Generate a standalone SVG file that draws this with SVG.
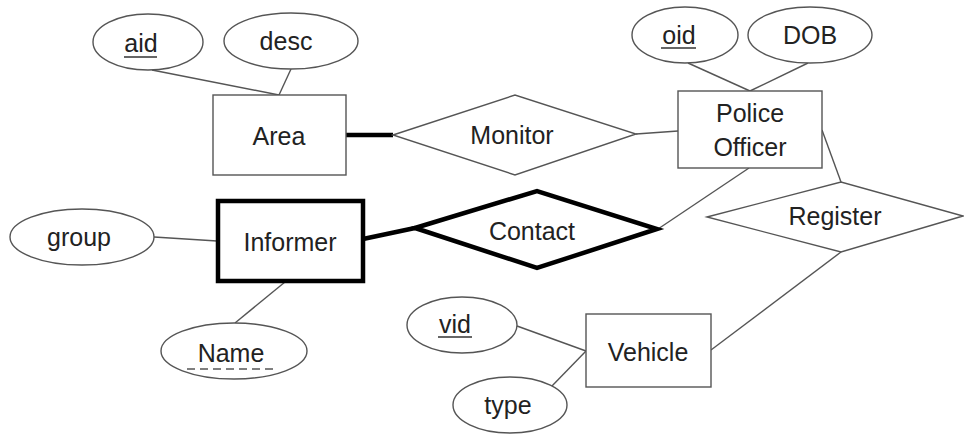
<svg xmlns="http://www.w3.org/2000/svg" width="964" height="434" viewBox="0 0 964 434">
  <style>
    .ent { fill: #ffffff; stroke: #555555; stroke-width: 1.4; }
    .weak { fill: #ffffff; stroke: #000000; stroke-width: 4.5; stroke-linejoin: miter; }
    .rel { fill: #ffffff; stroke: #555555; stroke-width: 1.4; }
    .attr { fill: #ffffff; stroke: #555555; stroke-width: 1.4; }
    .lbl { font-family: "Liberation Sans", Arial, sans-serif; font-size: 25px; fill: #222222; text-anchor: middle; }
    .key { fill: none; stroke: #333333; stroke-width: 1.6; }
    .partial { fill: none; stroke: #555555; stroke-width: 1.4; stroke-dasharray: 8 5; }
    .thin { fill: none; stroke: #555555; stroke-width: 1.4; }
    .thick { fill: none; stroke: #000000; stroke-width: 4.5; }
  </style>

  <!-- connectors -->
  <g id="connectors">
    <line class="thin" x1="152" y1="70" x2="279" y2="95"/>
    <line class="thin" x1="291" y1="69" x2="279" y2="95"/>
    <line class="thick" x1="346" y1="135" x2="393" y2="135"/>
    <line class="thin" x1="636" y1="134" x2="678" y2="131"/>
    <line class="thin" x1="688" y1="63" x2="750" y2="91"/>
    <line class="thin" x1="808" y1="63" x2="750" y2="91"/>
    <line class="thin" x1="822" y1="130" x2="841" y2="182"/>
    <line class="thin" x1="749" y1="168" x2="658" y2="229"/>
    <line class="thick" x1="363" y1="239" x2="415" y2="228"/>
    <line class="thin" x1="154" y1="237" x2="217" y2="241"/>
    <line class="thin" x1="285" y1="282" x2="235" y2="323"/>
    <line class="thin" x1="517" y1="326" x2="586" y2="351"/>
    <line class="thin" x1="551" y1="387" x2="586" y2="351"/>
    <line class="thin" x1="711" y1="350" x2="841" y2="252"/>
  </g>

  <!-- Area entity and its attributes -->
  <g id="attr-aid">
    <ellipse class="attr" cx="148" cy="42" rx="55" ry="28"/>
    <text class="lbl" x="141" y="52">aid</text>
    <line class="key" x1="124" y1="57" x2="157" y2="57"/>
  </g>
  <g id="attr-desc">
    <ellipse class="attr" cx="291" cy="41" rx="67" ry="28"/>
    <text class="lbl" x="286" y="50">desc</text>
  </g>
  <g id="entity-area">
    <rect class="ent" x="213" y="95" width="133" height="80"/>
    <text class="lbl" x="279" y="145">Area</text>
  </g>

  <!-- Monitor relationship -->
  <g id="rel-monitor">
    <polygon class="rel" points="393,135 515,95 636,134 515,175"/>
    <text class="lbl" x="512" y="144">Monitor</text>
  </g>

  <!-- Police Officer entity and its attributes -->
  <g id="attr-oid">
    <ellipse class="attr" cx="685" cy="35" rx="53" ry="28"/>
    <text class="lbl" x="679" y="44">oid</text>
    <line class="key" x1="661" y1="48" x2="696" y2="48"/>
  </g>
  <g id="attr-dob">
    <ellipse class="attr" cx="810" cy="35" rx="62" ry="28"/>
    <text class="lbl" x="810" y="44">DOB</text>
  </g>
  <g id="entity-police-officer">
    <rect class="ent" x="678" y="91" width="144" height="77"/>
    <text class="lbl" x="750" y="122">Police</text>
    <text class="lbl" x="750" y="156">Officer</text>
  </g>

  <!-- Register relationship -->
  <g id="rel-register">
    <polygon class="rel" points="707,217 841,182 963,216 841,252"/>
    <text class="lbl" x="835" y="225">Register</text>
  </g>

  <!-- Informer weak entity and its attributes -->
  <g id="attr-group">
    <ellipse class="attr" cx="82" cy="237" rx="72" ry="28"/>
    <text class="lbl" x="79" y="246">group</text>
  </g>
  <g id="entity-informer">
    <rect class="weak" x="218" y="201" width="145" height="80"/>
    <text class="lbl" x="290" y="251">Informer</text>
  </g>
  <g id="attr-name">
    <ellipse class="attr" cx="234" cy="351" rx="73" ry="28"/>
    <text class="lbl" x="231" y="362">Name</text>
    <line class="partial" x1="187" y1="369" x2="278" y2="369"/>
  </g>

  <!-- Contact identifying relationship -->
  <g id="rel-contact">
    <polygon class="weak" points="415,228 537,191 657,229 537,268"/>
    <text class="lbl" x="532" y="240">Contact</text>
  </g>

  <!-- Vehicle entity and its attributes -->
  <g id="attr-vid">
    <ellipse class="attr" cx="462" cy="325" rx="55" ry="28"/>
    <text class="lbl" x="455" y="333">vid</text>
    <line class="key" x1="438" y1="337" x2="472" y2="337"/>
  </g>
  <g id="attr-type">
    <ellipse class="attr" cx="510" cy="405" rx="57" ry="28"/>
    <text class="lbl" x="508" y="414">type</text>
  </g>
  <g id="entity-vehicle">
    <rect class="ent" x="586" y="314" width="125" height="73"/>
    <text class="lbl" x="648" y="361">Vehicle</text>
  </g>
</svg>
